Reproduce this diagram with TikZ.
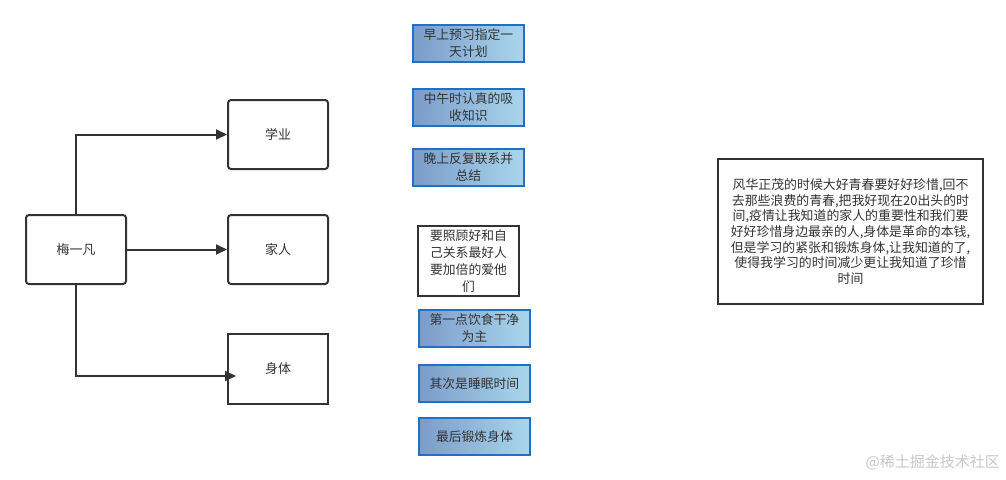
\documentclass[tikz,border=0pt]{standalone}
\usepackage{fontspec}
\setmainfont{Noto Sans CJK SC}
\setsansfont{Noto Sans CJK SC}
\usetikzlibrary{arrows.meta,shadows}
\definecolor{ink}{HTML}{333333}
\definecolor{bleft}{HTML}{7B9BC9}
\definecolor{bright}{HTML}{A9D6EC}
\definecolor{bborder}{HTML}{2270C4}
\tikzset{
  rbox/.style={draw=ink, line width=2pt, rounded corners=3pt, fill=white,
    minimum width=100pt, minimum height=69pt, anchor=north west, inner sep=0pt,
    text=ink, font=\fontsize{13}{16}\selectfont},
  sbox/.style={rbox, rounded corners=0pt},
  bluebox/.style={draw=bborder, line width=1.8pt, left color=bleft, right color=bright,
    minimum width=111pt, minimum height=37pt, anchor=north west, inner sep=0pt,
    align=center, text=ink, font=\fontsize{12.8}{17}\selectfont,
    drop shadow={shadow xshift=0.5pt, shadow yshift=-1.5pt, fill=black!20, opacity=0.8}},
  wbox/.style={draw=ink, line width=2pt, fill=white, anchor=north west, inner sep=0pt,
    align=center, text=ink, font=\fontsize{12.8}{17}\selectfont},
  link/.style={draw=ink, line width=2pt, -{Triangle[length=11pt,width=10pt]}},
}
\begin{document}
\begin{tikzpicture}[x=1pt,y=-1pt]
\useasboundingbox (0,0) rectangle (1006,479);
% left tree
\node[rbox] (mei) at (25,214) {梅一凡};
\node[rbox] (xue) at (227,99) {学业};
\node[rbox] (jia) at (227,214) {家人};
\node[sbox, minimum height=70pt] (shen) at (227,333) {身体};
\coordinate (shenin) at (236,376);
\draw[link] (mei.north) |- (xue.west);
\draw[link] (mei.east) -- (jia.west);
\draw[link] (mei.south) |- (shenin);
% blue boxes
\node[bluebox] (b1) at (412,24) {早上预习指定一\\天计划};
\node[bluebox] (b2) at (412,88) {中午时认真的吸\\收知识};
\node[bluebox] (b3) at (412,148) {晚上反复联系并\\总结};
\node[wbox, minimum width=101pt, minimum height=70pt] (w1) at (417,225) {要照顾好和自\\己关系最好人\\要加倍的爱他\\们};
\node[bluebox] (b4) at (418,309) {第一点饮食干净\\为主};
\node[bluebox] (b5) at (418,364) {其次是睡眠时间};
\node[bluebox] (b6) at (418,417) {最后锻炼身体};
% big text box
\node[wbox, minimum width=265pt, minimum height=145pt, font=\fontsize{12.9}{15.7}\selectfont] (big) at (717,158)
 {风华正茂的时候大好青春要好好珍惜,回不\\去那些浪费的青春,把我好现在20出头的时\\间,疫情让我知道的家人的重要性和我们要\\好好珍惜身边最亲的人,身体是革命的本钱,\\但是学习的紧张和锻炼身体,让我知道的了,\\使得我学习的时间减少更让我知道了珍惜\\时间};
% watermark
\node[text=black!22, font=\fontsize{15}{18}\selectfont, anchor=east, inner sep=0pt] (wm) at (1000,462) {@稀土掘金技术社区};
\end{tikzpicture}
\end{document}
